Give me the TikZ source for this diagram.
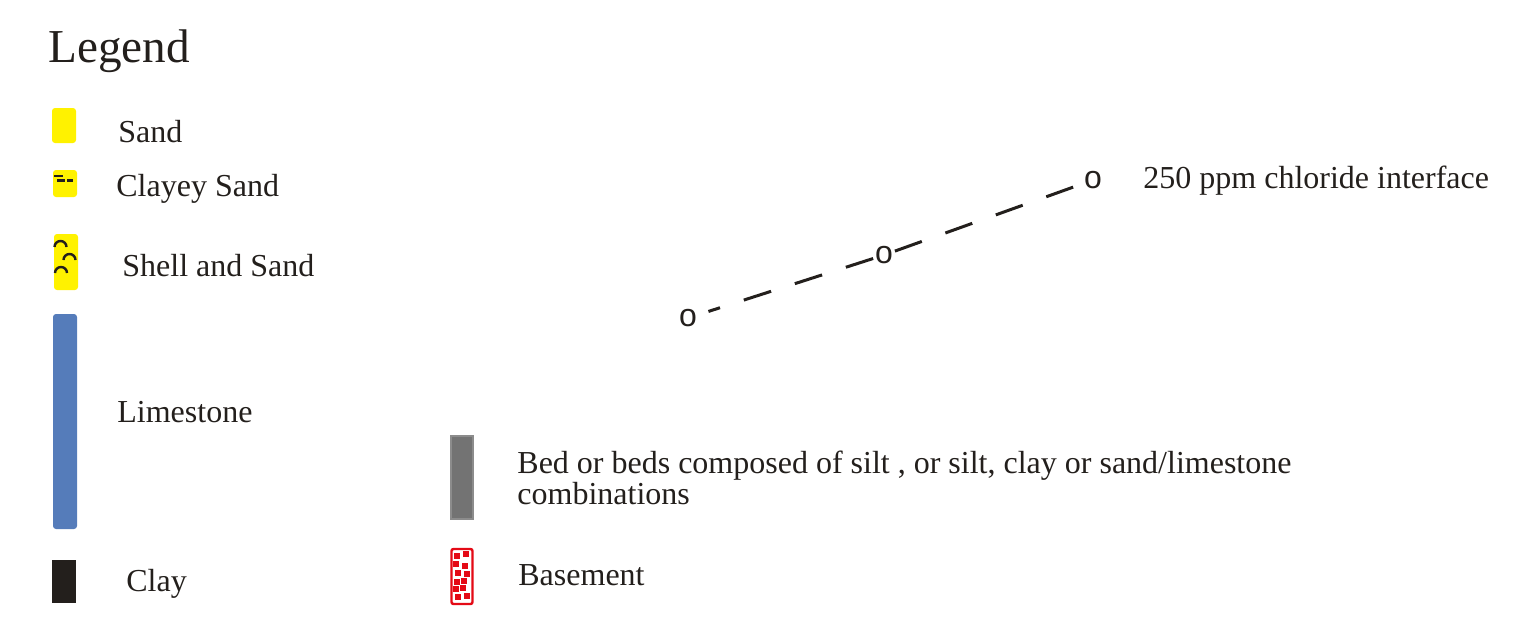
\documentclass[tikz,border=0pt]{standalone}
\usepackage{fontspec}
\setmainfont{Liberation Serif}
\newfontfamily\markfont{Liberation Sans}
\usetikzlibrary{positioning}

\definecolor{ink}{RGB}{35,31,28}
\definecolor{sandfill}{RGB}{255,242,0}
\definecolor{limefill}{RGB}{85,124,186}
\definecolor{clayfill}{RGB}{35,31,28}
\definecolor{siltfill}{RGB}{115,115,115}
\definecolor{siltedge}{RGB}{140,140,140}
\definecolor{basered}{RGB}{228,10,22}

\tikzset{
    line cap=round,
    line join=round,
    swatch/.style={
        rounded corners=1.5pt
    },
    sandswatch/.style={swatch, fill=sandfill},
    limeswatch/.style={swatch, fill=limefill},
    clayswatch/.style={fill=clayfill},
    siltswatch/.style={
        fill=siltfill,
        draw=siltedge,
        line width=1pt
    },
    baseswatch/.style={
        fill=white,
        draw=basered,
        line width=1.2pt,
        rounded corners=1pt
    },
    grain/.style={
        fill=basered
    },
    tick/.style={
        draw=ink,
        line width=1.1pt,
        line cap=butt
    },
    shell/.style={
        draw=ink,
        line width=1.2pt
    },
    legendtitle/.style={
        font=\fontsize{23.6}{26}\selectfont,
        text=ink,
        anchor=base west,
        inner sep=0pt
    },
    legendlabel/.style={
        font=\fontsize{16}{15.5}\selectfont,
        text=ink,
        anchor=base west,
        inner sep=0pt
    },
    marker/.style={
        font=\markfont\fontsize{16}{16}\selectfont,
        text=ink,
        inner sep=0pt,
        outer sep=1pt
    },
    interface/.style={
        draw=ink,
        line width=1.5pt,
        line cap=butt,
        dash pattern=on 14.3pt off 12.5pt
    }
}

\begin{document}
\begin{tikzpicture}[x=0.5pt, y=-0.5pt]

\useasboundingbox (0,0) rectangle (1521,634);

% Title
\node[legendtitle] (title) at (48,62) {Legend};

% === Left column ===
% Sand
\path[sandswatch] (52,108) rectangle (76,143);
\node[legendlabel] (sand) at (118,142) {Sand};

% Clayey sand
\path[sandswatch] (53,170) rectangle (77,197);
\draw[tick] (54,176) -- (63,176);
\draw[tick] (57,180.5) -- (65,180.5);
\draw[tick] (67,180.5) -- (73,180.5);
\node[legendlabel] (clayeysand) at (116,196) {Clayey Sand};

% Shell and sand
\path[sandswatch] (54,234) rectangle (78,290);
\draw[shell] (54.5,247) arc[start angle=180, end angle=360, radius=6];
\draw[shell] (63.5,260) arc[start angle=180, end angle=360, radius=6];
\draw[shell] (55,273) arc[start angle=180, end angle=360, radius=6];
\node[legendlabel] (shellsand) at (122,276) {Shell and Sand};

% Limestone
\path[limeswatch] (53,314) rectangle (77,529);
\node[legendlabel] (limestone) at (117,422) {Limestone};

% Clay
\path[clayswatch] (52,560) rectangle (76,603);
\node[legendlabel] (clay) at (126,591) {Clay};

% === Middle column ===
% Silt beds (base anchor sits on the last line)
\path[siltswatch] (451,436) rectangle (473,519);
\node[legendlabel, align=left] (silt) at (517,504)
    {Bed or beds composed of silt , or silt, clay or sand/limestone\\combinations};

% Basement
\path[baseswatch] (451.5,549) rectangle (472.5,604);
\foreach \gx/\gy in {457/556, 466/554, 456/564, 465/566, 458/573, 467/574,
                     457/582, 464/581, 456/589, 463/588, 458/597, 467/596}
    \path[grain] (\gx-2.7,\gy-2.7) rectangle (\gx+2.7,\gy+2.7);
\node[legendlabel] (basement) at (518,585) {Basement};

% === Chloride interface ===
\node[marker] (o1) at (688,318) {o};
\node[marker] (o2) at (884,255) {o};
\node[marker] (o3) at (1093,180) {o};
\draw[interface, shorten >=5pt] (o2) -- (o1);
\draw[interface] (o2) -- (o3);
\node[legendlabel] (chloride) at (1143,188) {250 ppm chloride interface};

\end{tikzpicture}
\end{document}
